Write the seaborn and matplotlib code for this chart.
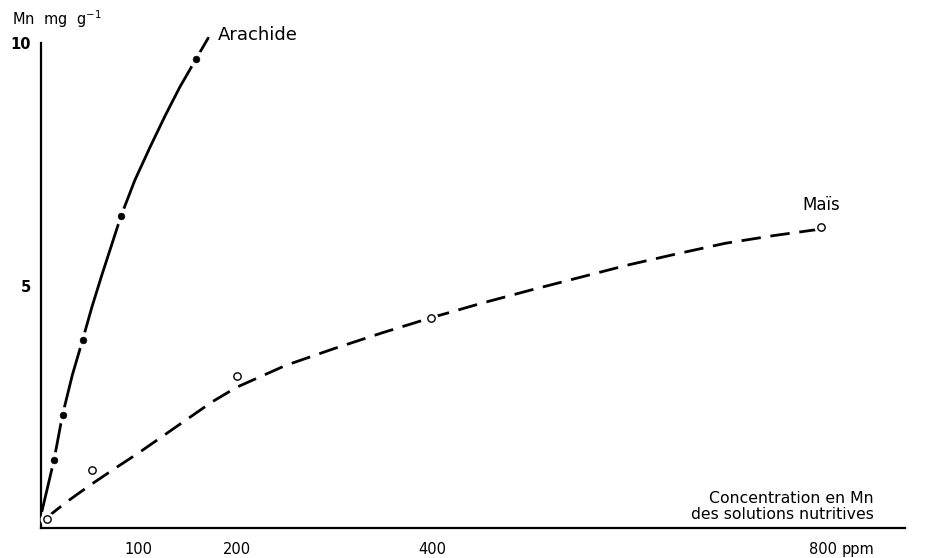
import matplotlib
matplotlib.use("Agg")
import matplotlib.pyplot as plt
import seaborn as sns
import pandas as pd

# --- data ---
arachide_x = [13.3, 22, 42.6, 81.8, 158.6]
arachide_y = [1.40, 2.33, 3.88, 6.43, 9.67]
arachide_curve_x = [1, 13.3, 22, 32, 42.6, 52, 62, 72, 81.8, 96, 111.5, 127, 142, 158.6, 171]
arachide_curve_y = [0.35, 1.4, 2.33, 3.15, 3.88, 4.55, 5.2, 5.82, 6.43, 7.17, 7.85, 8.5, 9.09, 9.67, 10.1]

mais_x = [5.8, 51.9, 200.5, 399, 798]
mais_y = [0.19, 1.19, 3.14, 4.34, 6.20]
mais_curve_x = [5, 25, 50, 75, 100, 125, 150, 175, 200, 250, 300, 350, 400, 450, 500, 550, 600, 650, 700, 750, 800]
mais_curve_y = [0.2, 0.52, 0.88, 1.22, 1.55, 1.9, 2.25, 2.6, 2.9, 3.35, 3.7, 4.03, 4.34, 4.63, 4.9, 5.16, 5.42, 5.65, 5.87, 6.03, 6.17]

x_ticks = [100, 200, 400, 800]
x_tick_labels = ["100", "200", "400", "800"]
y_ticks = [5, 10]
y_tick_labels = ["5", "10"]

sns.set_style("white")
plt.rcParams["font.family"] = ["DejaVu Sans"]
plt.rcParams["text.color"] = "black"
plt.rcParams["xtick.color"] = "black"
plt.rcParams["ytick.color"] = "black"
plt.rcParams["xtick.labelcolor"] = "black"
plt.rcParams["ytick.labelcolor"] = "black"

fig = plt.figure(figsize=(9.26, 5.58), dpi=100)
ax = fig.add_axes([41 / 926, 1 - 528 / 558, (905 - 41) / 926, (528 - 43) / 558])

df_a = pd.DataFrame({"x": arachide_curve_x, "y": arachide_curve_y})
df_m = pd.DataFrame({"x": mais_curve_x, "y": mais_curve_y})

sns.lineplot(data=df_a, x="x", y="y", ax=ax, color="black", lw=2.0,
             sort=False, estimator=None, clip_on=False, zorder=2)
sns.lineplot(data=df_m, x="x", y="y", ax=ax, color="black", lw=2.0,
             sort=False, estimator=None, dashes=False, clip_on=False, zorder=2)
ax.lines[-1].set_dashes((7, 3.5))

# white halo around markers to break the lines like in the drawing
ax.scatter(arachide_x, arachide_y, s=120, color="white", zorder=3, clip_on=False)
sns.scatterplot(x=arachide_x, y=arachide_y, ax=ax, color="black", s=24,
                edgecolor="black", zorder=4, clip_on=False)
ax.scatter(mais_x, mais_y, s=80, color="white", zorder=3, clip_on=False)
sns.scatterplot(x=mais_x, y=mais_y, ax=ax, facecolor="white", s=28,
                edgecolor="black", linewidth=1.0, zorder=4, clip_on=False)

ax.set_xlim(0, 884)
ax.set_ylim(0, 10)
ax.set_xlabel("")
ax.set_ylabel("")

ax.set_xticks(x_ticks)
ax.set_xticklabels(x_tick_labels)
ax.set_yticks(y_ticks)
ax.set_yticklabels(y_tick_labels)
ax.tick_params(axis="x", direction="inout", length=6, width=1.2, labelsize=10.5, pad=7,
               colors="black")
ax.tick_params(axis="y", direction="out", length=5, width=1.2, labelsize=10.5, pad=2,
               colors="black")
for lbl in ax.get_yticklabels():
    lbl.set_fontweight("bold")

for s in ["top", "right"]:
    ax.spines[s].set_visible(False)
for s in ["left", "bottom"]:
    ax.spines[s].set_linewidth(1.6)
    ax.spines[s].set_color("black")

ax.annotate("ppm", xy=(800, 0), xycoords="data", xytext=(13.5, -15.5),
            textcoords="offset points", ha="left", va="center", fontsize=10.5,
            color="black")

fig.text(12 / 926, 1 - 19 / 558, r"Mn  mg  g$^{-1}$", ha="left", va="center",
         fontsize=10.5, color="black")
ax.text(181, 10.17, "Arachide", ha="left", va="center", fontsize=13, color="black")
ax.text(778.5, 6.66, "Maïs", ha="left", va="center", fontsize=12, color="black")
ax.text(852, 0.61, "Concentration en Mn", ha="right", va="center", fontsize=11.3,
        color="black")
ax.text(852, 0.28, "des solutions nutritives", ha="right", va="center", fontsize=11.3,
        color="black")

fig.savefig("out.png", dpi=100)
